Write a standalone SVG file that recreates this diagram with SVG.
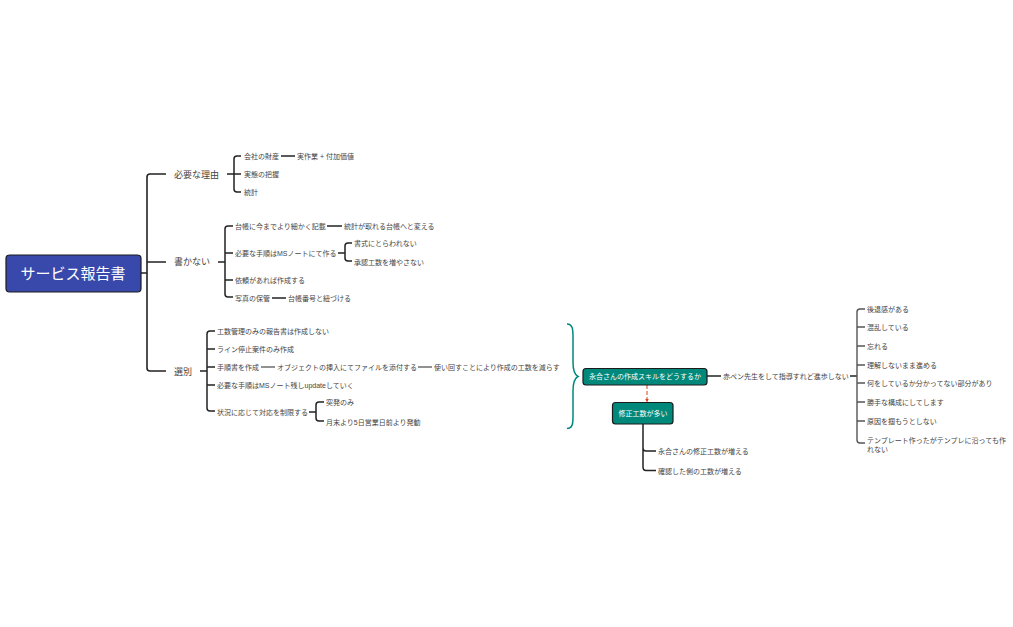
<svg xmlns="http://www.w3.org/2000/svg" width="1013" height="627" viewBox="0 0 1013 627">
<style>
text{font-family:"Liberation Sans","Noto Sans CJK JP",sans-serif;fill:#444;font-size:7px;dominant-baseline:central;transform:translateY(.5px)}
.m{font-size:9px}
.n{fill:#fff;text-anchor:middle;font-size:7px}
.box{stroke:#1c1c1c;stroke-width:1.2}
.c path,.c line{fill:none;stroke:#222;stroke-width:1.5}
.c .g{stroke:#555;stroke-width:1.3}
</style>
<defs><marker id="a" markerUnits="userSpaceOnUse" markerWidth="4" markerHeight="4" refX="3.500" refY="2" orient="auto"><path d="M0 0L4 2L0 4z" fill="#d84315"/></marker></defs>
<g id="connectors" class="c">
<path d="M141 273H147M166 174H150Q147 174 147 177V368Q147 371 150 371H166M147 262H166" style="stroke-width:1.6"/>
<path d="M227 174H241M241 156H237Q234 156 234 159V189Q234 192 237 192H241"/>
<line x1="281" y1="156" x2="295" y2="156"/>
<path d="M218 262H225M233 226H228Q225 226 225 229V294Q225 297 228 297H233M225 253H233M225 280H233"/>
<line x1="327" y1="226" x2="342" y2="226"/>
<line x1="272" y1="298" x2="286" y2="298"/>
<path d="M338 253H345M352 243H348Q345 243 345 246V258Q345 261 348 261H352"/>
<path d="M200 371H207M215 331H210Q207 331 207 334V408Q207 411 210 411H215M207 349H215M207 367H215M207 385H215"/>
<line class="g" x1="261" y1="367" x2="275" y2="367"/>
<line class="g" x1="418" y1="367" x2="432" y2="367"/>
<path d="M309 412H316M324 402H319Q316 402 316 405V418Q316 421 319 421H324"/>
<path d="M567 324C574 324 573 332 573 345V362C573 372 575 375 578 376.500C575 378 573 381 573 391V408C573 421 574 428.500 567 428.500" style="stroke:#00897b;stroke-width:1.5"/>
<line x1="647" y1="385" x2="647" y2="402" style="stroke:#d84315;stroke-width:1;stroke-dasharray:4 2" marker-end="url(#a)"/>
<path d="M643 424V467Q643 470.500 646 470.500H656M643 448Q643 451 646 451H656"/>
<path d="M707 376H721"/>
<line x1="850" y1="376" x2="857" y2="376"/>
<path class="g" d="M865 309H860Q857 309 857 312V440Q857 443 860 443H865M857 327H865M857 346H865M857 365H865M857 383H865M857 402H865M857 421H865" style="stroke-width:1.4"/>
</g>
<g id="root"><rect class="box" x="6" y="255" width="135" height="37" rx="3.500" fill="#3949ab"/><text x="73" y="272.500" style="fill:#fff;font-size:15px;text-anchor:middle">サービス報告書</text></g>
<g id="n1"><text class="m" x="174" y="174">必要な理由</text></g>
<g id="n2"><text class="m" x="174" y="261">書かない</text></g>
<g id="n3"><text class="m" x="174" y="371">選別</text></g>
<g id="l1"><text x="244" y="156">会社の財産</text></g>
<g id="l2"><text x="297" y="156">実作業 + 付加価値</text></g>
<g id="l3"><text x="244" y="174">実態の把握</text></g>
<g id="l4"><text x="244" y="192">統計</text></g>
<g id="l5"><text x="235" y="226">台帳に今までより細かく記載</text></g>
<g id="l6"><text x="344" y="226">統計が取れる台帳へと変える</text></g>
<g id="l7"><text x="235" y="253">必要な手順はMSノートにて作る</text></g>
<g id="l8"><text x="354" y="243">書式にとらわれない</text></g>
<g id="l9"><text x="354" y="262">承認工数を増やさない</text></g>
<g id="l10"><text x="235" y="280">依頼があれば作成する</text></g>
<g id="l11"><text x="235" y="298">写真の保管</text></g>
<g id="l12"><text x="288" y="298">台帳番号と紐づける</text></g>
<g id="l13"><text x="217" y="331">工数管理のみの報告書は作成しない</text></g>
<g id="l14"><text x="217" y="349">ライン停止案件のみ作成</text></g>
<g id="l15"><text x="217" y="367">手順書を作成</text></g>
<g id="l16"><text x="277" y="367">オブジェクトの挿入にてファイルを添付する</text></g>
<g id="l17"><text x="434" y="367">使い回すことにより作成の工数を減らす</text></g>
<g id="l18"><text x="217" y="385">必要な手順はMSノート残しupdateしていく</text></g>
<g id="l19"><text x="217" y="412">状況に応じて対応を制限する</text></g>
<g id="l20"><text x="326" y="402">突発のみ</text></g>
<g id="l21"><text x="326" y="422">月末より5日営業日前より発動</text></g>
<g id="t1"><rect class="box" x="583" y="368.500" width="124" height="16.500" rx="3" fill="#00897b"/><text class="n" x="645" y="376">永合さんの作成スキルをどうするか</text></g>
<g id="t2"><rect class="box" x="612.500" y="402.500" width="60.500" height="21.500" rx="3" fill="#00897b"/><text class="n" x="643" y="412.500">修正工数が多い</text></g>
<g id="r1"><text x="658" y="451">永合さんの修正工数が増える</text></g>
<g id="r2"><text x="658" y="471">確認した側の工数が増える</text></g>
<g id="r3"><text x="723" y="376">赤ペン先生をして指導すれど進歩しない</text></g>
<g id="s1"><text x="867" y="309">後退感がある</text></g>
<g id="s2"><text x="867" y="327">混乱している</text></g>
<g id="s3"><text x="867" y="346">忘れる</text></g>
<g id="s4"><text x="867" y="365">理解しないまま進める</text></g>
<g id="s5"><text x="867" y="383">何をしているか分かってない部分があり</text></g>
<g id="s6"><text x="867" y="402">勝手な構成にしてします</text></g>
<g id="s7"><text x="867" y="421">原因を掴もうとしない</text></g>
<g id="s8"><text x="867" y="440">テンプレート作ったがテンプレに沿っても作</text><text x="867" y="449">れない</text></g>
</svg>
